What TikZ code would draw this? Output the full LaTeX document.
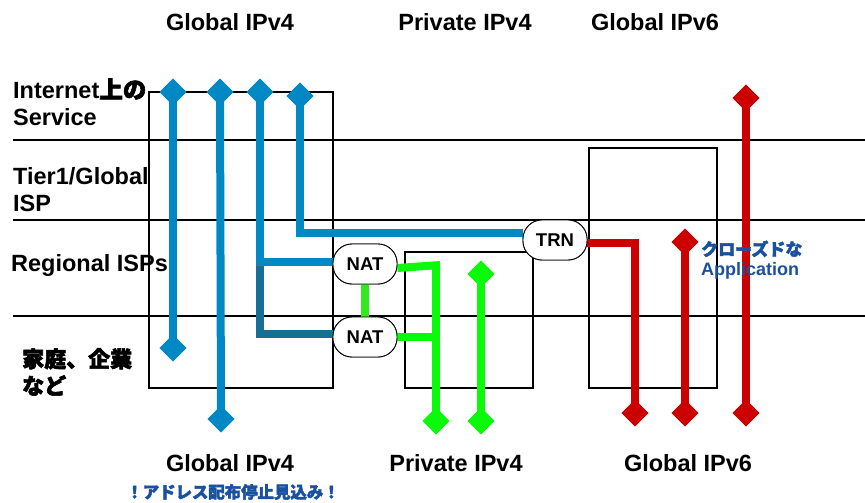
\documentclass[tikz,border=0pt]{standalone}
\usepackage{fontspec}
\setmainfont{Liberation Sans}
\newfontfamily\jp{Noto Sans CJK JP}[FakeBold=2.5]
\usetikzlibrary{shapes.geometric}
\definecolor{gblue}{RGB}{0,136,196}
\definecolor{gdark}{RGB}{22,112,150}
\definecolor{ggreen}{RGB}{10,250,10}
\definecolor{ggreen2}{RGB}{50,232,30}
\definecolor{gred}{RGB}{204,0,0}
\definecolor{tblue}{RGB}{26,80,160}
\tikzset{
  bigtxt/.style={font=\fontsize{23.5}{27}\selectfont\bfseries, inner sep=0pt, align=left},
  frame/.style={draw=black, line width=1.3pt},
  dia/.style={diamond, minimum width=27pt, minimum height=27pt, inner sep=0pt, draw=none},
  bdia/.style={dia, fill=gblue},
  gdia/.style={dia, fill=ggreen},
  rdia/.style={dia, fill=gred},
  bline/.style={draw=gblue, line width=8pt},
  dline/.style={draw=gdark, line width=8pt},
  gline/.style={draw=ggreen, line width=8pt},
  rline/.style={draw=gred, line width=8pt},
  gw/.style={draw=black, line width=0.9pt, fill=white, rounded corners=19pt, minimum width=64pt, minimum height=40pt, inner sep=0pt, font=\fontsize{18.5}{21}\selectfont\bfseries}
}
\begin{document}
\begin{tikzpicture}[x=1pt,y=-1pt]
\useasboundingbox (0,0) rectangle (865,503);
% layer lines
\draw[frame] (13,140) -- (865,140);
\draw[frame] (13,220) -- (865,220);
\draw[frame] (13,316) -- (865,316);
% boxes
\draw[frame] (149,92) rectangle (333,388);
\draw[frame] (405,252) rectangle (533,388);
\draw[frame] (589,148) rectangle (717,388);
% column headers
\node[bigtxt, anchor=center] (h1) at (230,22) {Global IPv4};
\node[bigtxt, anchor=center] (h2) at (465,22) {Private IPv4};
\node[bigtxt, anchor=center] (h3) at (655,22) {Global IPv6};
\node[bigtxt, anchor=center] (f1) at (230,463) {Global IPv4};
\node[bigtxt, anchor=center] (f2) at (456,463) {Private IPv4};
\node[bigtxt, anchor=center] (f3) at (688,463) {Global IPv6};
\node[font=\fontsize{16.4}{19}\selectfont\jp\bfseries, text=tblue, inner sep=0pt] (note) at (233,492) {！アドレス配布停止見込み！};
% row labels
\node[bigtxt, anchor=west] (l1) at (13,102) {Internet{\jp 上の}\\Service};
\node[bigtxt, anchor=west] (l2) at (13,190) {Tier1/Global\\ISP};
\node[bigtxt, anchor=west] (l3) at (11,265) {Regional ISPs};
\node[bigtxt, anchor=west, font=\fontsize{22}{27}\selectfont\jp\bfseries] (l4) at (22,372) {家庭、企業\\など};
% gateway nodes
\node[gw] (nat1) at (365,264) {NAT};
\node[gw] (nat2) at (365,337) {NAT};
\node[gw] (trn) at (555,240) {TRN};
% diamonds
\node[bdia] (b1t) at (173,92) {};
\node[bdia] (b1b) at (173,348) {};
\node[bdia] (b2t) at (220,92) {};
\node[bdia] (b2b) at (221,419) {};
\node[bdia] (b3t) at (260,92) {};
\node[bdia] (b4t) at (300,96) {};
\node[gdia] (g1b) at (436,421) {};
\node[gdia] (g2t) at (481,274) {};
\node[gdia] (g2b) at (481,421) {};
\node[rdia] (r1b) at (635,413) {};
\node[rdia] (r2t) at (685,242) {};
\node[rdia] (r2b) at (685,413) {};
\node[rdia] (r3t) at (746,98) {};
\node[rdia] (r3b) at (746,413) {};
\coordinate (c3) at (260,257);
\coordinate (g1c) at (436,265);
% blue connectors
\draw[bline] (b1t.center) -- (b1b.center);
\draw[bline] (b2t.center) -- (b2b.center);
\draw[dline] (c3) |- ([yshift=3pt]nat2.west);
\draw[bline] (b3t.center) |- ([yshift=2pt]nat1.west);
\draw[bline] (b4t.center) |- ([yshift=7pt]trn.west);
% green connectors
\draw[draw=ggreen2, line width=8pt] (nat1.south) -- (nat2.north);
\draw[gline] ([yshift=-4pt]nat1.east) -- ([xshift=4pt]g1c) ;
\draw[gline] (g1c) -- (g1b.center);
\draw[gline] (nat2.east) -- (nat2.east -| g1c);
\draw[gline] (g2t.center) -- (g2b.center);
% red connectors
\draw[rline] ([yshift=-3pt]trn.east) -| (r1b.center);
\draw[rline] (r2t.center) -- (r2b.center);
\draw[rline] (r3t.center) -- (r3b.center);
% redraw nodes on top
\node[gw] at (nat1) {NAT};
\node[gw] at (nat2) {NAT};
\node[gw] at (trn) {TRN};
\foreach \n in {b1t,b1b,b2t,b2b,b3t,b4t}{\node[bdia] at (\n) {};}
\foreach \n in {g1b,g2t,g2b}{\node[gdia] at (\n) {};}
\foreach \n in {r1b,r2t,r2b,r3t,r3b}{\node[rdia] at (\n) {};}
\node[font=\fontsize{18}{20}\selectfont\bfseries, text=tblue, inner sep=0pt, align=left, anchor=west] (app) at (701,260) {{\jp\fontsize{17}{20}\selectfont\bfseries クローズドな}\\Application};
\end{tikzpicture}
\end{document}
